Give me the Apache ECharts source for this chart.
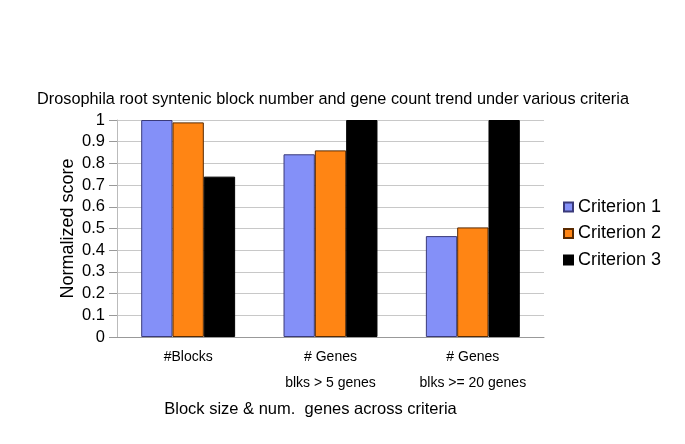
<!DOCTYPE html>
<html><head><meta charset="utf-8">
<script src="https://cdn.jsdelivr.net/npm/echarts@6/dist/echarts.min.js"></script>
<style>html,body{margin:0;padding:0;background:#fff}#c{width:685px;height:444px}</style>
</head><body><div id="c"></div>
<script>
const categories = ['#Blocks', '# Genes\nblks > 5 genes', '# Genes\nblks >= 20 genes'];
const seriesNames = ['Criterion 1', 'Criterion 2', 'Criterion 3'];
const criterion1 = [1.0, 0.842, 0.465];
const criterion2 = [0.989, 0.86, 0.505];
const criterion3 = [0.739, 1.0, 1.0];
const yTicks = [0, 0.1, 0.2, 0.3, 0.4, 0.5, 0.6, 0.7, 0.8, 0.9, 1];

const colors = ['#8490f8', '#ff8514', '#000000'];
const borders = ['#3a3a7a', '#5a2a00', '#000000'];
const FONT = 'Liberation Sans, Arial, Helvetica, sans-serif';
const chart = echarts.init(document.getElementById('c'), null, {renderer: 'canvas'});
const data = [criterion1, criterion2, criterion3];
chart.setOption({
  animation: false,
  textStyle: {fontFamily: FONT},
  title: {
    text: 'Drosophila root syntenic block number and gene count trend under various criteria',
    left: 328, top: 87, textAlign: 'center',
    textStyle: {fontSize: 16.3, fontWeight: 'normal', color: '#000', fontFamily: FONT}
  },
  legend: {
    orient: 'vertical', left: 558, top: 193, itemGap: 8.5,
    itemWidth: 9, itemHeight: 9, icon: 'rect',
    textStyle: {fontSize: 18, color: '#000', fontFamily: FONT, padding: [0, 0, 0, 0]},
    data: seriesNames
  },
  grid: {left: 117, top: 120, width: 427, height: 217, show: false},
  xAxis: {
    type: 'category', data: categories,
    axisLine: {lineStyle: {color: '#999'}},
    axisTick: {show: false},
    axisLabel: {fontSize: 14, color: '#000', lineHeight: 26, margin: 7, fontFamily: FONT},
    name: 'Block size & num.  genes across criteria',
    nameLocation: 'middle', nameGap: 64,
    nameTextStyle: {fontSize: 16.5, color: '#000', fontFamily: FONT, padding: [0, 40, 0, 0]},
    splitLine: {show: false}
  },
  yAxis: {
    type: 'value', min: 0, max: 1, interval: 0.1,
    axisLine: {show: true, lineStyle: {color: '#bbb'}},
    axisTick: {show: true, length: 8, lineStyle: {color: '#999'}},
    axisLabel: {fontSize: 16.5, color: '#000', margin: 12, fontFamily: FONT,
      formatter: v => { const t = yTicks.find(x => Math.abs(x - v) < 1e-6); return t === undefined ? '' : String(t); }},
    splitLine: {show: true, lineStyle: {color: '#c8c8c8'}},
    name: 'Normalized score', nameLocation: 'middle', nameGap: 40, nameMoveOverlap: false,
    nameTextStyle: {fontSize: 18, color: '#000', fontFamily: FONT}
  },
  series: seriesNames.map((n, i) => ({
    name: n, type: 'bar', data: data[i],
    barGap: '0%', barCategoryGap: '34%',
    itemStyle: {color: colors[i], borderColor: borders[i], borderWidth: 1}
  }))
});
</script></body></html>
